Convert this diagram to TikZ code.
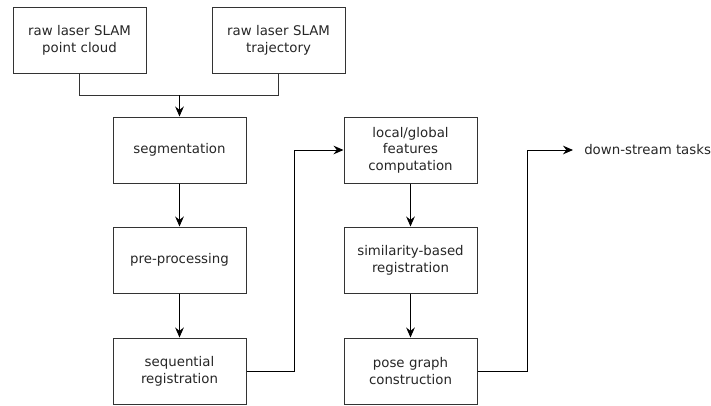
\documentclass[tikz,border=0pt]{standalone}
\usepackage{fontspec}
\usepackage{xcolor}
\usepackage{tikz}
\setmainfont{DejaVu Sans}
\definecolor{boxline}{rgb}{0.2, 0.2, 0.2}
\definecolor{boxtext}{rgb}{0.15, 0.15, 0.15}
\usetikzlibrary{arrows.meta}

\tikzset{
	stagebox/.style = {draw = boxline, line width = 0.75pt, rectangle, minimum width = 99.75pt, minimum height = 49.5pt, text width = 97pt, align = center, inner sep = 0pt, text = boxtext, font = \fontsize{10pt}{12.5pt}\selectfont},
	flow/.style = {line width = 0.75pt, -{Stealth[length = 7.5pt, width = 6.5pt, inset = 2.5pt]}}
}

\begin{document}
\begin{tikzpicture}[x = 0.75pt, y = -0.75pt]
			\useasboundingbox (0,0) rectangle (711,405);
			\node[stagebox] (cloud) at (79.5,40) {raw laser SLAM\\point cloud};
			\node[stagebox] (traj) at (278.5,40) {raw laser SLAM\\trajectory};
			\node[stagebox] (seg) at (179.5,150) {segmentation};
			\node[stagebox] (prep) at (179.5,260) {pre-processing};
			\node[stagebox] (seqreg) at (179.5,371) {sequential\\registration};
			\node[stagebox] (feat) at (410.5,150) {local/global\\features\\computation};
			\node[stagebox] (simreg) at (410.5,260) {similarity-based\\registration};
			\node[stagebox] (pgraph) at (410.5,371) {pose graph\\construction};
			\node[anchor = west, inner xsep = 8.25pt, inner ysep = 0pt, text = boxtext, font = \fontsize{10pt}{12.5pt}\selectfont] (tasks) at (573,150) {down-stream tasks};
			\coordinate (join) at (179.5,95);
			
			\draw[line width = 0.75pt, boxline] (cloud.south) |- (join);
			\draw[line width = 0.75pt, boxline] (traj.south) |- (join);
			\draw[flow] (join) -- (seg.north);
			\draw[flow] (seg) -- (prep);
			\draw[flow] (prep) -- (seqreg);
			\draw[flow] (seqreg.east) -- ++(48,0) |- (feat.west);
			\draw[flow] (feat) -- (simreg);
			\draw[flow] (simreg) -- (pgraph);
			\draw[flow] (pgraph.east) -- ++(50,0) |- (tasks.west);
			
			\end{tikzpicture}
\end{document}
